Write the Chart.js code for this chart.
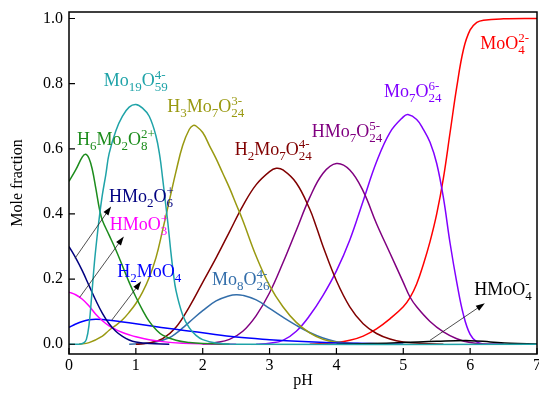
<!DOCTYPE html>
<html>
<head>
<meta charset="utf-8">
<script src="https://cdn.jsdelivr.net/npm/chart.js@4.4.1/dist/chart.umd.min.js"></script>
<style>
  html, body { margin: 0; padding: 0; background: #fff; }
</style>
</head>
<body>
<canvas id="chart" width="539" height="407"></canvas>
<script>
// tick values
const xTicks = [0, 1, 2, 3, 4, 5, 6, 7];
const yTicks = [0, 0.2, 0.4, 0.6, 0.8, 1.0];

// species curves: pH values and mole fractions
const phMo19 = [0, 0.15, 0.22, 0.26, 0.3, 0.34, 0.38, 0.42, 0.46, 0.5, 0.55, 0.6, 0.7, 0.8, 0.9, 1.0, 1.1, 1.2, 1.3, 1.36, 1.4, 1.44, 1.48, 1.52, 1.56, 1.6, 1.7, 1.8, 1.9, 2.0, 2.2, 2.5, 7];
const fMo19  = [0, 0, 0.004, 0.015, 0.06, 0.15, 0.25, 0.33, 0.40, 0.46, 0.52, 0.585, 0.655, 0.70, 0.728, 0.736, 0.725, 0.70, 0.64, 0.575, 0.51, 0.44, 0.37, 0.29, 0.22, 0.165, 0.09, 0.05, 0.027, 0.014, 0.004, 0, 0];

const phH6Mo2 = [0, 0.1, 0.2, 0.25, 0.3, 0.35, 0.4, 0.46, 0.5, 0.6, 0.7, 0.8, 0.9, 1.0, 1.1, 1.2, 1.3, 1.4, 1.6, 1.8, 2.0, 2.4];
const fH6Mo2  = [0.50, 0.535, 0.575, 0.583, 0.57, 0.535, 0.48, 0.41, 0.38, 0.335, 0.29, 0.24, 0.19, 0.145, 0.105, 0.07, 0.045, 0.028, 0.012, 0.005, 0.002, 0];

const phHMo2 = [0, 0.1, 0.2, 0.3, 0.4, 0.5, 0.6, 0.7, 0.8, 0.9, 1.0, 1.2, 1.5];
const fHMo2  = [0.30, 0.265, 0.225, 0.18, 0.135, 0.095, 0.063, 0.04, 0.024, 0.013, 0.007, 0.002, 0];

const phHMoO3 = [0, 0.1, 0.2, 0.3, 0.4, 0.5, 0.6, 0.7, 0.8, 0.9, 1.0, 1.2, 1.4, 1.7, 2.0, 2.5];
const fHMoO3  = [0.16, 0.152, 0.138, 0.117, 0.092, 0.072, 0.056, 0.045, 0.036, 0.029, 0.023, 0.014, 0.008, 0.003, 0.001, 0];

const phH2MoO4 = [0, 0.1, 0.2, 0.3, 0.4, 0.5, 0.7, 1.0, 1.5, 2.0, 2.5, 3.0, 3.5, 4.0, 4.5, 5.0];
const fH2MoO4  = [0.052, 0.062, 0.07, 0.075, 0.077, 0.076, 0.071, 0.063, 0.048, 0.035, 0.022, 0.014, 0.008, 0.004, 0.002, 0];

const phH3Mo7 = [0.15, 0.3, 0.5, 0.6, 0.7, 0.8, 0.9, 1.0, 1.1, 1.2, 1.3, 1.4, 1.5, 1.6, 1.7, 1.8, 1.86, 1.9, 2.0, 2.1, 2.2, 2.3, 2.4, 2.5, 2.6, 2.8, 3.0, 3.2, 3.4, 3.6, 3.8, 4.0, 4.3, 4.6];
const fH3Mo7  = [0, 0.005, 0.025, 0.043, 0.058, 0.075, 0.098, 0.125, 0.16, 0.205, 0.265, 0.35, 0.44, 0.53, 0.61, 0.66, 0.672, 0.67, 0.65, 0.61, 0.57, 0.525, 0.48, 0.43, 0.38, 0.27, 0.18, 0.115, 0.067, 0.035, 0.015, 0.006, 0.001, 0];

const phH2Mo7 = [1.0, 1.2, 1.4, 1.6, 1.8, 2.0, 2.2, 2.4, 2.6, 2.8, 3.0, 3.1, 3.2, 3.4, 3.6, 3.7, 3.8, 4.0, 4.2, 4.4, 4.6, 4.8, 5.0, 5.3, 5.6];
const fH2Mo7  = [0, 0.004, 0.017, 0.052, 0.115, 0.19, 0.265, 0.345, 0.425, 0.49, 0.53, 0.54, 0.535, 0.495, 0.415, 0.36, 0.30, 0.195, 0.115, 0.063, 0.033, 0.016, 0.007, 0.002, 0];

const phMo8 = [0.9, 1.1, 1.3, 1.5, 1.6, 1.7, 1.8, 2.0, 2.2, 2.4, 2.5, 2.6, 2.8, 3.0, 3.2, 3.4, 3.6, 3.8, 4.0, 4.3, 4.6];
const fMo8  = [0, 0.002, 0.007, 0.02, 0.033, 0.05, 0.068, 0.103, 0.133, 0.149, 0.152, 0.15, 0.136, 0.11, 0.083, 0.058, 0.036, 0.019, 0.008, 0.002, 0];

const phHMo7 = [2.0, 2.2, 2.4, 2.6, 2.8, 3.0, 3.2, 3.4, 3.6, 3.8, 4.0, 4.2, 4.4, 4.6, 4.8, 5.0, 5.1, 5.2, 5.4, 5.6, 5.8, 6.0, 6.2, 6.5];
const fHMo7  = [0, 0.005, 0.015, 0.04, 0.088, 0.158, 0.25, 0.35, 0.45, 0.525, 0.555, 0.535, 0.47, 0.37, 0.28, 0.19, 0.145, 0.115, 0.07, 0.038, 0.017, 0.005, 0.001, 0];

const phMo7 = [2.8, 3.0, 3.2, 3.4, 3.6, 3.8, 4.0, 4.2, 4.4, 4.6, 4.8, 5.0, 5.07, 5.2, 5.3, 5.4, 5.5, 5.6, 5.7, 5.8, 5.9, 6.0, 6.1, 6.2, 6.5];
const fMo7  = [0, 0.003, 0.012, 0.04, 0.088, 0.15, 0.225, 0.32, 0.44, 0.56, 0.65, 0.698, 0.705, 0.69, 0.66, 0.62, 0.555, 0.45, 0.31, 0.19, 0.09, 0.03, 0.007, 0.001, 0];

const phMoO4 = [3.6, 3.8, 4.0, 4.2, 4.4, 4.6, 4.8, 5.0, 5.1, 5.2, 5.3, 5.4, 5.5, 5.6, 5.7, 5.8, 5.9, 6.0, 6.1, 6.2, 6.5, 7];
const fMoO4  = [0, 0.002, 0.005, 0.012, 0.025, 0.047, 0.078, 0.115, 0.143, 0.185, 0.245, 0.315, 0.40, 0.51, 0.65, 0.79, 0.905, 0.965, 0.988, 0.995, 0.999, 1.0];

const phHMoO4 = [4.0, 4.5, 5.0, 5.5, 6.0, 6.3, 6.6, 7];
const fHMoO4  = [0, 0.002, 0.005, 0.009, 0.011, 0.007, 0.003, 0.001];

const serif = "'Liberation Serif', 'Times New Roman', serif";

function pts(xs, ys) {
  return xs.map((v, i) => ({ x: v, y: ys[i] }));
}

function line(label, xs, ys, color) {
  return {
    label: label,
    data: pts(xs, ys),
    borderColor: color,
    borderWidth: 1.5,
    pointRadius: 0,
    fill: false,
    tension: 0.4
  };
}

// first dataset is painted last, so the teal line sits on the baseline
const datasets = [
  line('Mo19O59', phMo19, fMo19, '#1fa3a8'),
  line('HMoO4', phHMoO4, fHMoO4, '#000000'),
  line('H6Mo2O8', phH6Mo2, fH6Mo2, '#1c8c1c'),
  line('HMo2O6', phHMo2, fHMo2, '#000080'),
  line('HMoO3', phHMoO3, fHMoO3, '#ff00ff'),
  line('H2MoO4', phH2MoO4, fH2MoO4, '#0000ff'),
  line('H3Mo7O24', phH3Mo7, fH3Mo7, '#999911'),
  line('H2Mo7O24', phH2Mo7, fH2Mo7, '#800000'),
  line('Mo8O26', phMo8, fMo8, '#336eaa'),
  line('HMo7O24', phHMo7, fHMo7, '#800080'),
  line('Mo7O24', phMo7, fMo7, '#8000ff'),
  line('MoO4', phMoO4, fMoO4, '#ff0000')
];

// formula labels: [main, subscript, superscript], anchored at (pH, fraction)
const labels = [
  { at: [0.52, 0.794], color: '#1fa3a8', parts: [['Mo', '19'], ['O', '59', '4-']] },
  { at: [0.12, 0.613], color: '#1c8c1c', parts: [['H', '6'], ['Mo', '2'], ['O', '8', '2+']] },
  { at: [1.47, 0.712], color: '#999911', parts: [['H', '3'], ['Mo', '7'], ['O', '24', '3-']] },
  { at: [2.48, 0.58], color: '#800000', parts: [['H', '2'], ['Mo', '7'], ['O', '24', '4-']] },
  { at: [3.63, 0.635], color: '#800080', parts: [['HMo', '7'], ['O', '24', '5-']] },
  { at: [4.71, 0.758], color: '#8000ff', parts: [['Mo', '7'], ['O', '24', '6-']] },
  { at: [6.15, 0.905], color: '#ff0000', parts: [['MoO', '4', '2-']] },
  { at: [0.6, 0.436], color: '#000080', parts: [['HMo', '2'], ['O', '6', '+']] },
  { at: [0.61, 0.35], color: '#ff00ff', parts: [['HMoO', '3', '+']] },
  { at: [0.72, 0.206], color: '#0000ff', parts: [['H', '2'], ['MoO', '4']] },
  { at: [2.14, 0.181], color: '#336eaa', parts: [['Mo', '8'], ['O', '26', '4-']] },
  { at: [6.06, 0.15], color: '#000000', parts: [['HMoO', '4', '-']] }
];

// arrows pointing from curves to their labels: [pH0, f0, pH1, f1]
const arrows = [
  [0.09, 0.264, 0.63, 0.423],
  [0.16, 0.144, 0.82, 0.331],
  [0.64, 0.074, 1.08, 0.193],
  [5.4, 0.012, 6.22, 0.126]
];

function drawFormula(ctx, parts, x, y, color) {
  ctx.fillStyle = color;
  ctx.textAlign = 'left';
  ctx.textBaseline = 'alphabetic';
  let cx = x;
  parts.forEach(([main, sub, sup]) => {
    ctx.font = '18px ' + serif;
    ctx.fillText(main, cx, y);
    cx += ctx.measureText(main).width;
    ctx.font = '13px ' + serif;
    let w = 0;
    if (sub) {
      ctx.fillText(sub, cx, y + 5);
      w = ctx.measureText(sub).width;
    }
    if (sup) {
      ctx.fillText(sup, cx, y - 7);
      w = Math.max(w, ctx.measureText(sup).width);
    }
    cx += w;
  });
}

const decor = {
  id: 'decor',
  afterDatasetsDraw(chart) {
    const { ctx, chartArea: a, scales: { x, y } } = chart;
    ctx.save();

    // frame
    ctx.strokeStyle = '#000';
    ctx.lineWidth = 1.5;
    ctx.strokeRect(a.left, a.top, a.right - a.left, a.bottom - a.top);

    // inward ticks
    ctx.lineWidth = 1.2;
    ctx.beginPath();
    xTicks.forEach(v => {
      const px = x.getPixelForValue(v);
      ctx.moveTo(px, a.bottom);
      ctx.lineTo(px, a.bottom - 6);
    });
    yTicks.forEach(v => {
      const py = y.getPixelForValue(v);
      ctx.moveTo(a.left, py);
      ctx.lineTo(a.left + 6, py);
    });
    ctx.stroke();

    // arrows
    ctx.strokeStyle = '#222';
    ctx.fillStyle = '#000';
    ctx.lineWidth = 0.8;
    arrows.forEach(([p0, f0, p1, f1]) => {
      const x0 = x.getPixelForValue(p0), y0 = y.getPixelForValue(f0);
      const x1 = x.getPixelForValue(p1), y1 = y.getPixelForValue(f1);
      const ang = Math.atan2(y1 - y0, x1 - x0);
      ctx.beginPath();
      ctx.moveTo(x0, y0);
      ctx.lineTo(x1 - 6 * Math.cos(ang), y1 - 6 * Math.sin(ang));
      ctx.stroke();
      ctx.beginPath();
      ctx.moveTo(x1, y1);
      ctx.lineTo(x1 - 9 * Math.cos(ang) + 3 * Math.sin(ang), y1 - 9 * Math.sin(ang) - 3 * Math.cos(ang));
      ctx.lineTo(x1 - 9 * Math.cos(ang) - 3 * Math.sin(ang), y1 - 9 * Math.sin(ang) + 3 * Math.cos(ang));
      ctx.closePath();
      ctx.fill();
    });

    // formula labels
    labels.forEach(l => {
      drawFormula(ctx, l.parts, x.getPixelForValue(l.at[0]), y.getPixelForValue(l.at[1]), l.color);
    });

    ctx.restore();
  }
};

new Chart(document.getElementById('chart'), {
  type: 'line',
  data: { datasets: datasets },
  options: {
    responsive: false,
    animation: false,
    events: [],
    layout: { padding: { top: 12, right: 2, left: 0, bottom: 0 } },
    plugins: { legend: { display: false }, tooltip: { enabled: false } },
    scales: {
      x: {
        type: 'linear',
        min: 0,
        max: 7,
        grid: { display: false, drawTicks: false },
        border: { display: false },
        afterBuildTicks: s => { s.ticks = xTicks.map(v => ({ value: v })); },
        afterFit: s => { s.height = 53; s.paddingLeft = 0; s.paddingRight = 0; },
        ticks: { font: { family: serif, size: 16 }, color: '#000', padding: 2, maxRotation: 0 },
        title: { display: true, text: 'pH', font: { family: serif, size: 16 }, color: '#000', padding: { top: 0, bottom: 17 } }
      },
      y: {
        min: -0.03,
        max: 1.02,
        grid: { display: false, drawTicks: false },
        border: { display: false },
        afterBuildTicks: s => { s.ticks = yTicks.map(v => ({ value: v })); },
        afterFit: s => { s.width = 69; s.paddingTop = 0; s.paddingBottom = 0; },
        ticks: { font: { family: serif, size: 16 }, color: '#000', padding: 6, callback: v => v.toFixed(1) },
        title: { display: true, text: 'Mole fraction', font: { family: serif, size: 16 }, color: '#000', padding: { top: 8, bottom: 0 } }
      }
    }
  },
  plugins: [decor]
});
</script>
</body>
</html>
